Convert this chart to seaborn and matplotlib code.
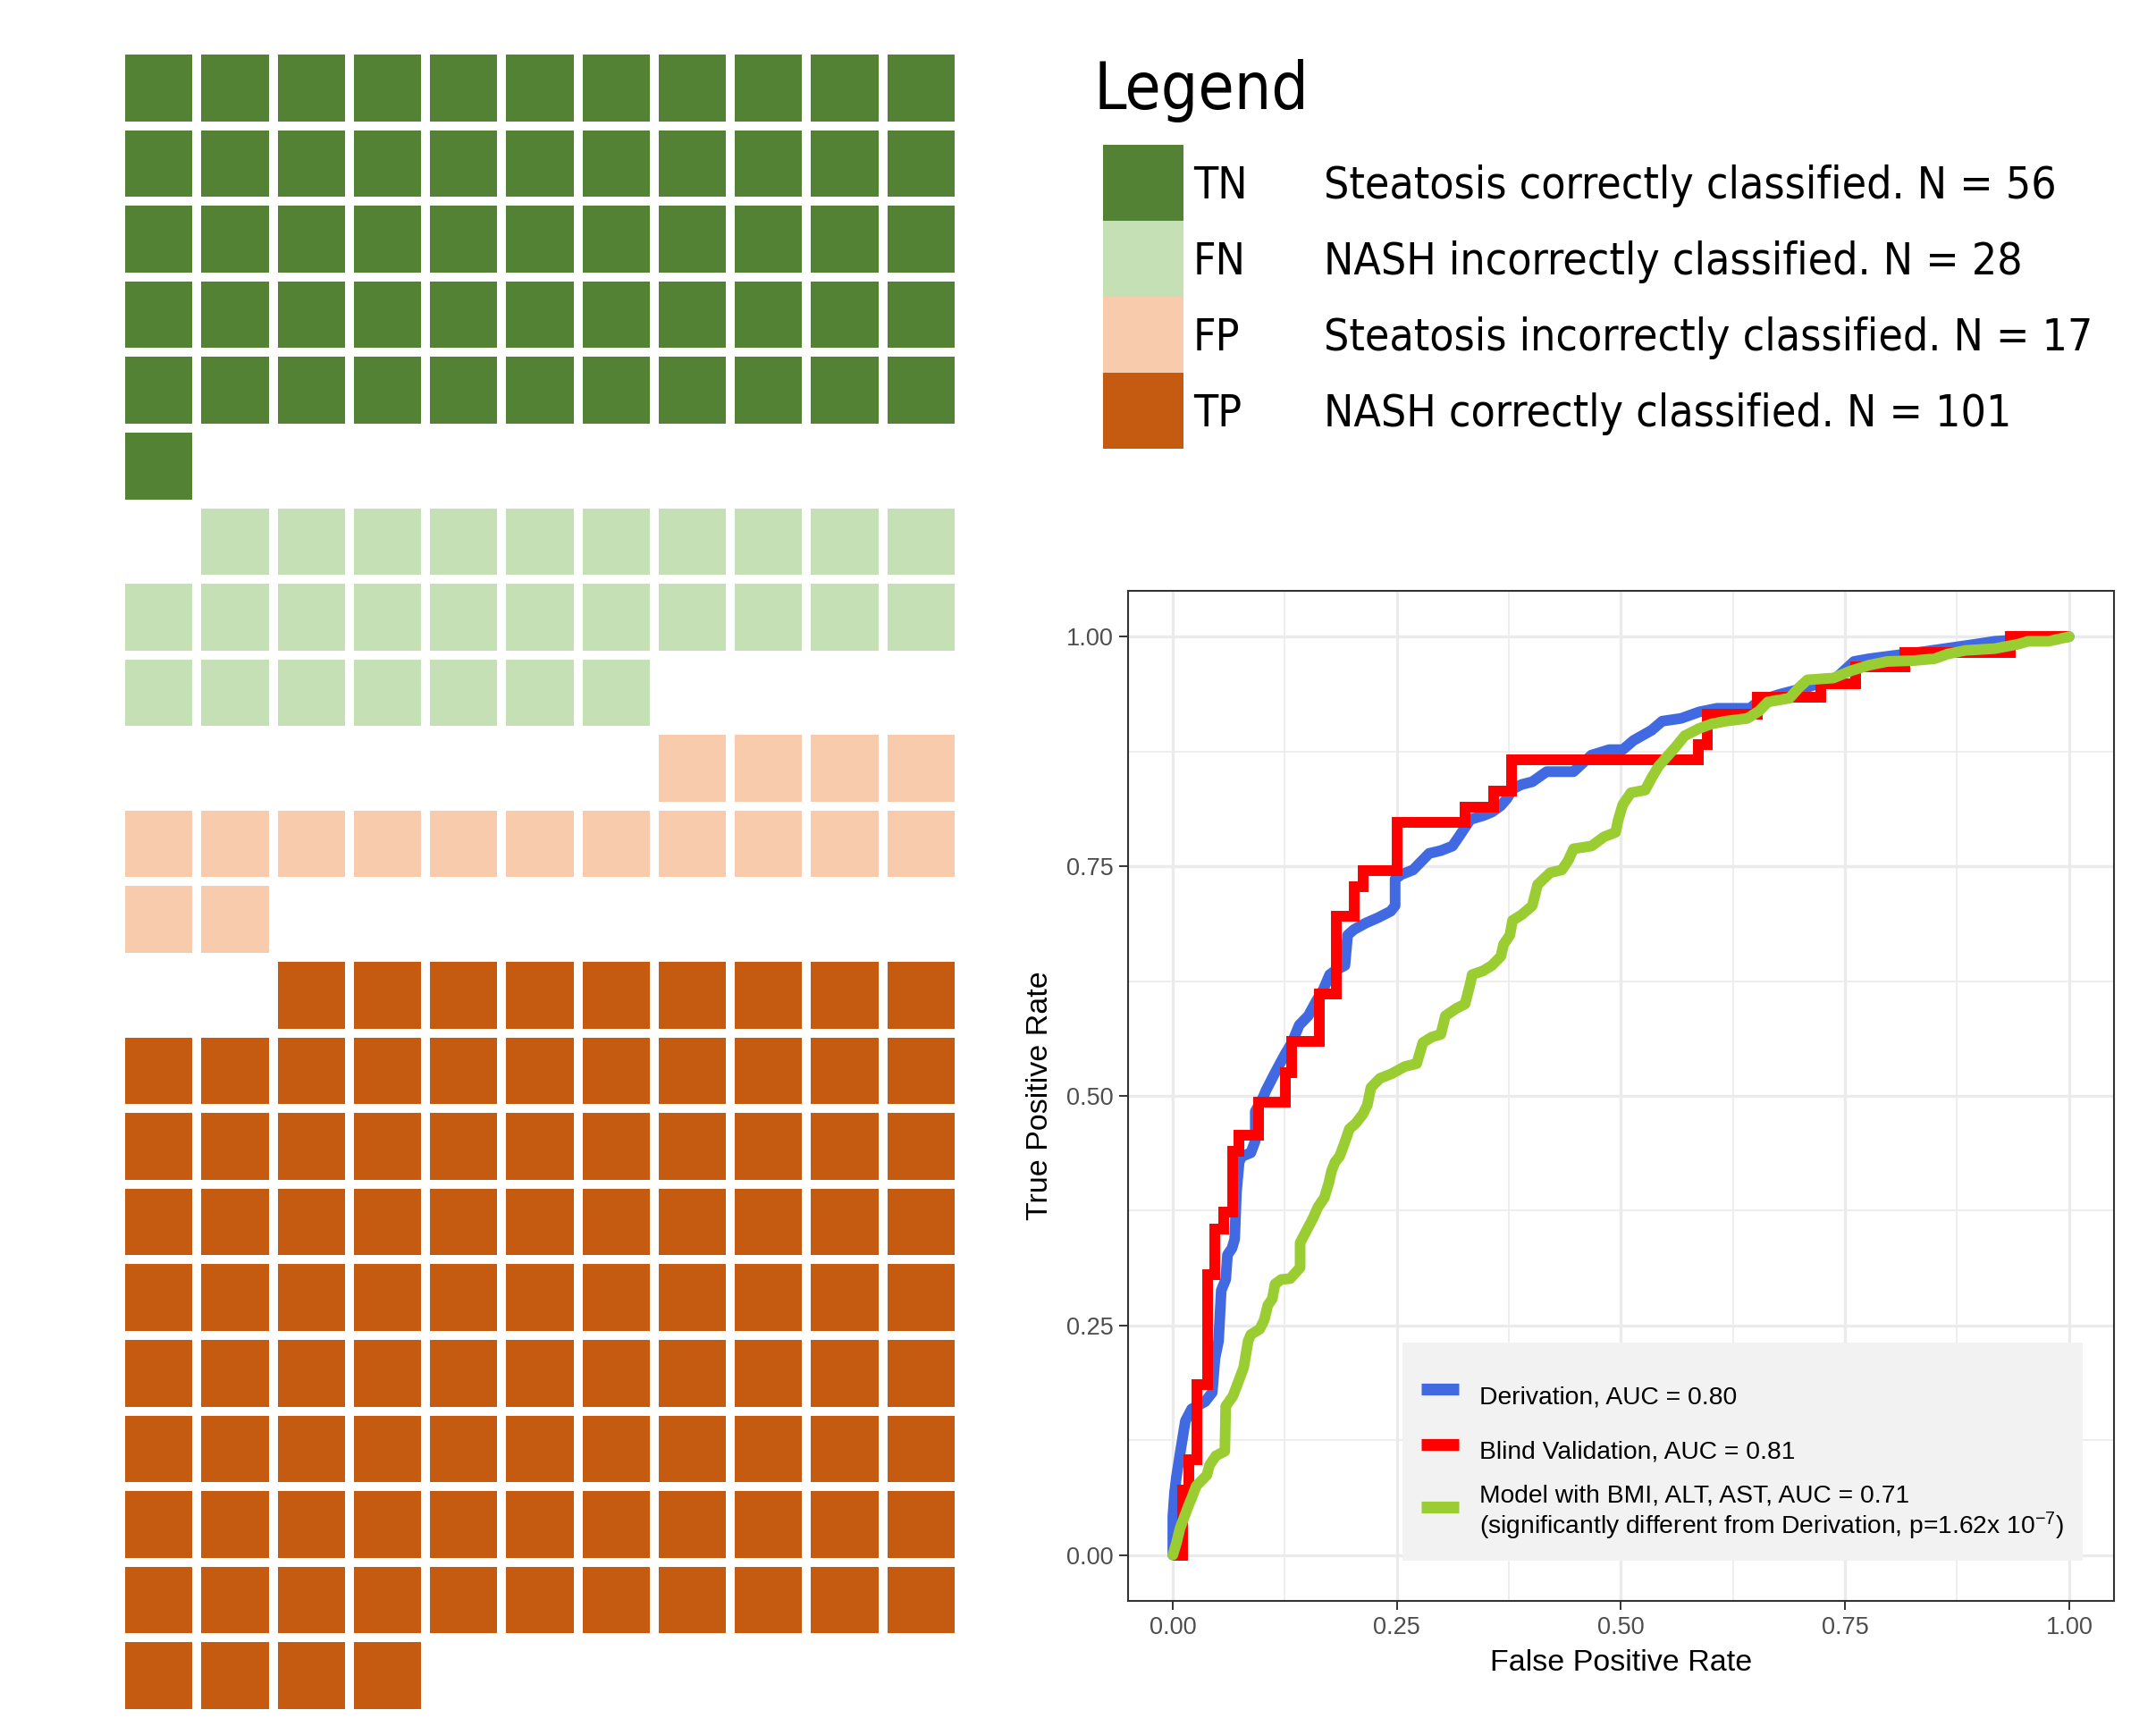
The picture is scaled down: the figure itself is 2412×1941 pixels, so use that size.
import matplotlib
matplotlib.use("Agg")
import matplotlib.pyplot as plt
import numpy as np
import seaborn as sns
from matplotlib import font_manager
from matplotlib.colors import ListedColormap
from matplotlib.lines import Line2D

# waffle: confusion matrix counts
categories = ["TN", "FN", "FP", "TP"]
descriptions = ["Steatosis correctly classified.", "NASH incorrectly classified.",
                "Steatosis incorrectly classified.", "NASH correctly classified."]
counts = [56, 28, 17, 101]
waffle_colors = ["#548235", "#C5E0B4", "#F8CBAD", "#C55A11"]
n_cols = 11

# ROC curves
deriv_fpr = [0.0, 0.0, 0.002, 0.004, 0.009, 0.014, 0.021, 0.036, 0.044, 0.047,
             0.051, 0.054, 0.059, 0.061, 0.066, 0.069, 0.071, 0.074, 0.077, 0.087,
             0.092, 0.092, 0.101, 0.104, 0.114, 0.125, 0.133, 0.141, 0.151, 0.160,
             0.168, 0.175, 0.182, 0.192, 0.195, 0.202, 0.215, 0.229, 0.243, 0.248,
             0.248, 0.255, 0.268, 0.275, 0.286, 0.299, 0.312, 0.319, 0.332, 0.346,
             0.356, 0.366, 0.373, 0.379, 0.389, 0.401, 0.417, 0.447, 0.467, 0.487,
             0.502, 0.514, 0.534, 0.546, 0.567, 0.587, 0.607, 0.644, 0.654, 0.676,
             0.708, 0.740, 0.760, 0.777, 0.840, 0.897, 0.917, 1.0]
deriv_tpr = [0.0, 0.042, 0.069, 0.085, 0.116, 0.146, 0.159, 0.167, 0.177, 0.214,
             0.233, 0.288, 0.300, 0.327, 0.334, 0.344, 0.395, 0.428, 0.434, 0.438,
             0.451, 0.483, 0.499, 0.506, 0.525, 0.545, 0.558, 0.577, 0.587, 0.603,
             0.616, 0.632, 0.637, 0.642, 0.675, 0.681, 0.688, 0.694, 0.701, 0.707,
             0.736, 0.741, 0.746, 0.753, 0.764, 0.767, 0.772, 0.782, 0.801, 0.805,
             0.809, 0.816, 0.824, 0.834, 0.839, 0.842, 0.853, 0.853, 0.871, 0.877,
             0.877, 0.887, 0.898, 0.908, 0.911, 0.918, 0.922, 0.922, 0.930, 0.937,
             0.945, 0.955, 0.973, 0.976, 0.984, 0.992, 0.995, 1.0]

blind_fpr = [0.0, 0.011, 0.018, 0.027, 0.039, 0.047, 0.057, 0.067, 0.074, 0.096,
             0.126, 0.133, 0.163, 0.182, 0.202, 0.212, 0.250, 0.326, 0.358, 0.378,
             0.586, 0.596, 0.652, 0.723, 0.762, 0.817, 0.934, 1.0]
blind_tpr = [0.0, 0.071, 0.104, 0.186, 0.305, 0.355, 0.373, 0.440, 0.457, 0.493,
             0.525, 0.559, 0.611, 0.696, 0.728, 0.745, 0.798, 0.814, 0.832, 0.866,
             0.882, 0.916, 0.934, 0.949, 0.967, 0.983, 1.0, 1.0]

bmi_fpr = [0.0, 0.004, 0.008, 0.013, 0.018, 0.021, 0.026, 0.031, 0.038, 0.041,
           0.048, 0.058, 0.059, 0.067, 0.074, 0.079, 0.084, 0.087, 0.097, 0.102,
           0.106, 0.111, 0.114, 0.121, 0.131, 0.142, 0.142, 0.149, 0.156, 0.162,
           0.169, 0.174, 0.177, 0.181, 0.186, 0.191, 0.197, 0.204, 0.212, 0.217,
           0.221, 0.231, 0.244, 0.259, 0.272, 0.279, 0.289, 0.299, 0.304, 0.316,
           0.326, 0.332, 0.334, 0.346, 0.356, 0.366, 0.369, 0.376, 0.379, 0.389,
           0.401, 0.407, 0.421, 0.434, 0.441, 0.447, 0.467, 0.481, 0.494, 0.497,
           0.502, 0.511, 0.527, 0.534, 0.542, 0.551, 0.561, 0.571, 0.587, 0.601,
           0.617, 0.641, 0.654, 0.664, 0.688, 0.698, 0.708, 0.737, 0.757, 0.777,
           0.797, 0.827, 0.850, 0.864, 0.884, 0.917, 0.944, 0.954, 0.977, 1.0]
bmi_tpr = [0.0, 0.013, 0.029, 0.042, 0.055, 0.062, 0.075, 0.080, 0.087, 0.098,
           0.108, 0.113, 0.162, 0.173, 0.191, 0.204, 0.233, 0.240, 0.246, 0.256,
           0.272, 0.279, 0.295, 0.300, 0.301, 0.313, 0.340, 0.353, 0.366, 0.379,
           0.389, 0.405, 0.418, 0.428, 0.434, 0.447, 0.464, 0.470, 0.480, 0.490,
           0.509, 0.519, 0.524, 0.532, 0.535, 0.558, 0.564, 0.567, 0.587, 0.595,
           0.600, 0.623, 0.632, 0.636, 0.642, 0.652, 0.665, 0.675, 0.691, 0.697,
           0.707, 0.730, 0.743, 0.746, 0.756, 0.769, 0.772, 0.782, 0.787, 0.801,
           0.817, 0.830, 0.833, 0.846, 0.859, 0.869, 0.880, 0.892, 0.900, 0.905,
           0.908, 0.911, 0.919, 0.929, 0.933, 0.944, 0.953, 0.955, 0.963, 0.969,
           0.973, 0.974, 0.976, 0.981, 0.985, 0.987, 0.992, 0.995, 0.995, 1.0]

roc_labels = ["Derivation, AUC = 0.80",
              "Blind Validation, AUC = 0.81",
              "Model with BMI, ALT, AST, AUC = 0.71\n"
              "(significantly different from Derivation, p=1.62x 10$^{-7}$)"]
roc_colors = ["#4169E1", "#FF0000", "#9ACD32"]
tick_values = [0.0, 0.25, 0.5, 0.75, 1.0]
minor_values = [0.125, 0.375, 0.625, 0.875]

plt.rcParams["font.family"] = ["Liberation Sans", "DejaVu Sans"]
plt.rcParams["mathtext.fontset"] = "custom"
plt.rcParams["mathtext.rm"] = "Liberation Sans"
plt.rcParams["mathtext.it"] = "Liberation Sans:italic"

# legend font of the waffle (Tahoma-like -> DejaVu condensed if present)
cond_path = font_manager.findfont(font_manager.FontProperties(family="DejaVu Sans", stretch="condensed"))
if "Condensed" in cond_path:
    wfont = dict(family="DejaVu Sans", fontstretch="condensed")
    label_size, title_size = 35.7, 52.5
else:
    wfont = dict(family="DejaVu Sans")
    label_size, title_size = 32, 47.5

fig = plt.figure(figsize=(24.12, 19.41), dpi=100)

# ---- waffle grid ----
n_rows = 0
start = 0
for k, n in enumerate(counts):
    n_rows = max(n_rows, (start + n - 1) // n_cols + k + 1)
    start += n
grid = np.full((n_rows, n_cols), np.nan)
start = 0
for k, n in enumerate(counts):
    for i in range(start, start + n):
        grid[i // n_cols + k, i % n_cols] = k   # each class starts one row lower
    start += n

cmap = ListedColormap(waffle_colors)
ax_w = fig.add_axes([0.05597, 0.01237, 0.3889, 0.95878])
sns.heatmap(grid, ax=ax_w, cmap=cmap, vmin=-0.5, vmax=3.5, cbar=False,
            linewidths=7.2, linecolor="white", xticklabels=False, yticklabels=False)
ax_w.axis("off")

# ---- waffle legend ----
ax_l = fig.add_axes([0.5116, 0.74137, 0.0373, 0.17517])
sns.heatmap(np.arange(len(categories)).reshape(-1, 1), ax=ax_l, cmap=cmap,
            vmin=-0.5, vmax=3.5, cbar=False, xticklabels=False, yticklabels=False)
ax_l.axis("off")
tr = ax_l.get_yaxis_transform()
for k, (cat, desc, n) in enumerate(zip(categories, descriptions, counts)):
    ax_l.text(1.12, k + 0.71, cat, transform=tr, va="baseline", ha="left",
              fontsize=label_size, clip_on=False, **wfont)
    ax_l.text(2.75, k + 0.71, f"{desc} N = {n}", transform=tr, va="baseline",
              ha="left", fontsize=label_size, clip_on=False, **wfont)
fig.text(1224 / 2412, 1 - 122 / 1941, "Legend", va="baseline", ha="left",
         fontsize=title_size, **wfont)

# ---- ROC panel ----
ax = fig.add_axes([0.5232, 0.0773, 0.4573, 0.5822])
ax.set_xlim(-0.05, 1.05)
ax.set_ylim(-0.05, 1.05)
ax.set_xticks(tick_values, labels=[f"{v:.2f}" for v in tick_values])
ax.set_yticks(tick_values, labels=[f"{v:.2f}" for v in tick_values])
ax.set_xticks(minor_values, minor=True)
ax.set_yticks(minor_values, minor=True)
ax.grid(which="major", color="#EBEBEB", linewidth=2.4)
ax.grid(which="minor", color="#EBEBEB", linewidth=1.2)
ax.set_axisbelow(True)
ax.tick_params(which="major", length=7, width=1.4, color="#333333",
               labelsize=19.5, labelcolor="#4D4D4D", pad=5)
ax.tick_params(which="minor", length=0)
for sp in ax.spines.values():
    sp.set_color("#333333")
    sp.set_linewidth(1.5)

lw = 8.6
sns.lineplot(x=deriv_fpr, y=deriv_tpr, ax=ax, color=roc_colors[0], linewidth=lw,
             estimator=None, sort=False, legend=False,
             solid_capstyle="round", solid_joinstyle="round")
sns.lineplot(x=blind_fpr, y=blind_tpr, ax=ax, color=roc_colors[1], linewidth=lw,
             estimator=None, sort=False, legend=False, drawstyle="steps-post",
             solid_capstyle="butt", solid_joinstyle="miter")
sns.lineplot(x=bmi_fpr, y=bmi_tpr, ax=ax, color=roc_colors[2], linewidth=lw,
             estimator=None, sort=False, legend=False,
             solid_capstyle="round", solid_joinstyle="round")

ax.set_xlabel("False Positive Rate", fontsize=24.5, color="black", labelpad=8)
ax.set_ylabel("True Positive Rate", fontsize=24.5, color="black", labelpad=10)

handles = [Line2D([], [], color=c, linewidth=9.5, solid_capstyle="butt") for c in roc_colors]
leg = ax.legend(handles, roc_labels, loc="lower right", bbox_to_anchor=(1.015, -0.006),
                bbox_transform=ax.transData, borderaxespad=0, fontsize=20.3,
                title=" ", title_fontsize=1,
                frameon=True, fancybox=False, facecolor="#F2F2F2", edgecolor="none",
                framealpha=1, handlelength=1.5, handleheight=2.2, handletextpad=0.8,
                labelspacing=0.5, borderpad=0.75)
for t in leg.get_texts():
    t.set_linespacing(1.1)

fig.savefig("out.png", dpi=100, facecolor="white")
